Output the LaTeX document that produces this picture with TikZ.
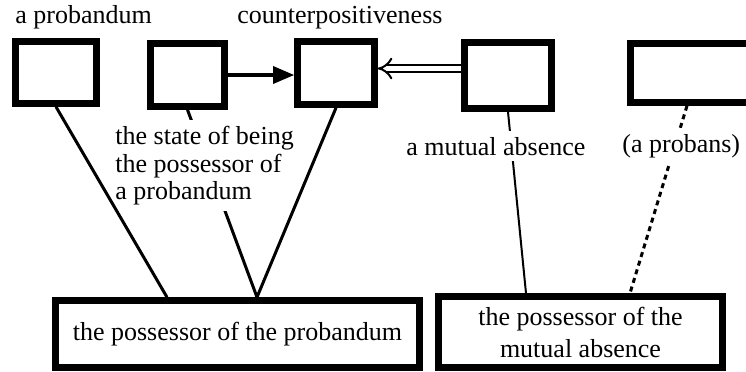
\documentclass[tikz,border=0pt]{standalone}
\usepackage{fontspec}
\setmainfont{Liberation Serif}
\usetikzlibrary{arrows.meta,calc}

\begin{document}
\begin{tikzpicture}[x=0.5pt,y=-0.5pt,
    every node/.style={font=\fontsize{13}{13.75}\selectfont},
    box/.style={draw,line width=3.3pt,inner sep=0pt},
    lbl/.style={fill=white,inner xsep=0pt,inner ysep=3pt,align=left},
    link/.style={line width=1.5pt}]

		% frame

		\useasboundingbox (0,0) rectangle (746,371);

		\clip (0,0) rectangle (746,371);

		% upper boxes

		\node[box,minimum width=40.5pt,minimum height=31pt]   (b1) at (56,72.5) {};

		\node[box,minimum width=37pt,minimum height=31.5pt]   (b2) at (187.5,75) {};

		\node[box,minimum width=38.5pt,minimum height=31.5pt] (b3) at (336,73) {};

		\node[box,minimum width=43.5pt,minimum height=33pt]   (b4) at (508,75.5) {};

		\node[box,minimum width=63pt,minimum height=29.5pt]   (b5) at (693.5,73) {};

		% lower boxes

		\node[box,minimum width=182pt,minimum height=33.5pt] (pA) at (237.5,334) {the possessor of the probandum};

		\node[box,minimum width=142pt,minimum height=35.5pt,align=center,font=\fontsize{13}{16}\selectfont] (pB) at (580.5,332) {the possessor of the\\mutual absence};

		% links under the labels

		\draw[link] (b2.south) -- ($(pA.north)+(19.5,0)$);

		\draw[link,line width=1pt] (b4.south) -- ($(pB.north)+(-54.5,0)$);

		\draw[link,dash pattern=on 2.5pt off 2pt] ($(b5.south)+(-6.5,0)$) -- ($(pB.north)+(49.5,0)$);

		% arrows

		\draw[line width=1.6pt,-{Triangle[length=10.5pt,width=8.5pt]}] (b2.east) -- (b3.west |- b2.east);

		\draw[double,double distance=2.7pt,line width=1pt,-{Implies[length=7.5pt,width=12.5pt]}] ($(b4.west)+(0,-7)$) -- ($(b3.east)+(0,-4.5)$);

		% labels

		\node[lbl,anchor=base west] (t1) at (15,23) {a probandum};

		\node[lbl,anchor=base west] (t3) at (237,23) {counterpositiveness};

		\node[lbl,anchor=north west] (t2) at (115,120) {the state of being\\the possessor of\\a probandum};

		\node[lbl,anchor=base west] (t4) at (406,155) {a mutual absence};

		\node[lbl,anchor=base west] (t5) at (622,152) {(a probans)};

		% links over the labels

		\draw[link] (b1.south) -- ($(pA.north)+(-70.5,0)$);

		\draw[link] (b3.south) -- ($(pA.north)+(19.5,0)$);

	\end{tikzpicture}
\end{document}
